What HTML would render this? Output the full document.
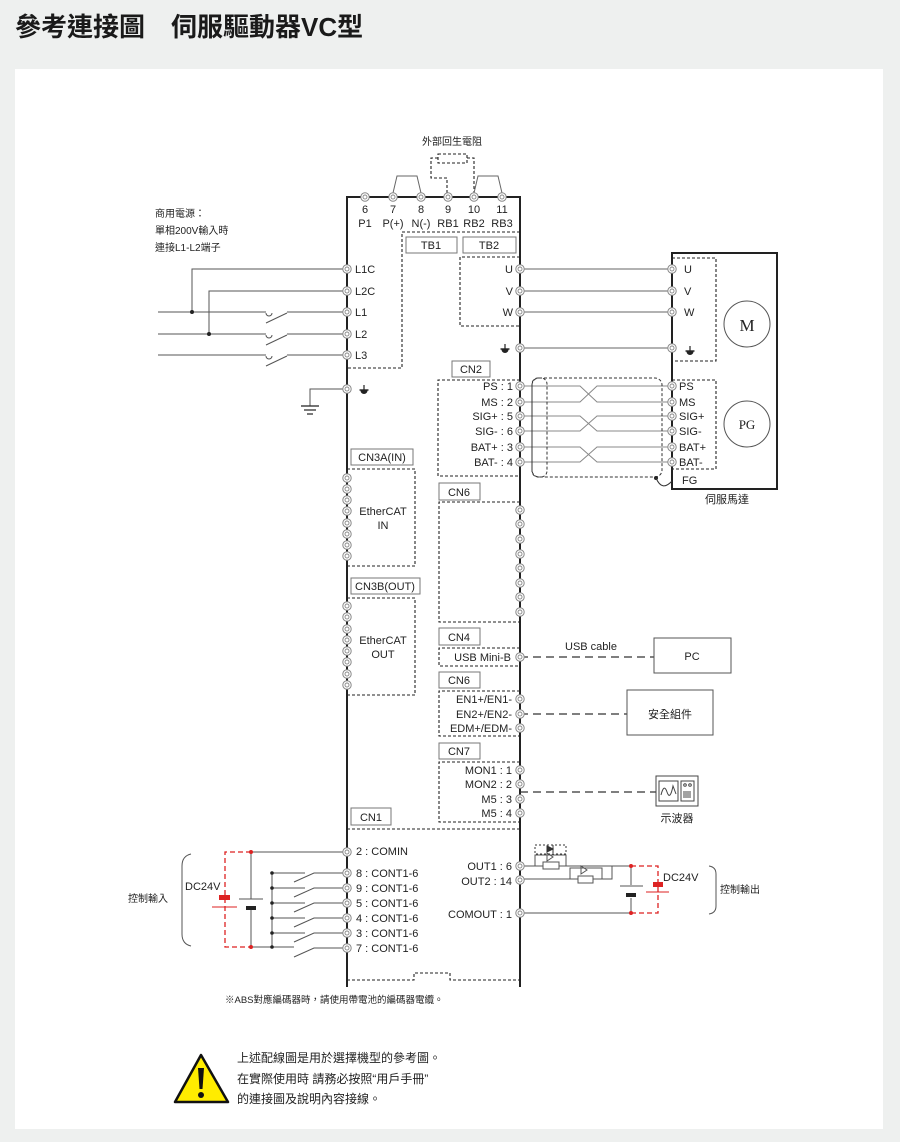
<!DOCTYPE html>
<html><head><meta charset="utf-8"><style>
html,body{margin:0;padding:0;background:#eef0ef;width:900px;height:1142px;overflow:hidden}
svg{display:block}
text{font-family:"Liberation Sans","Noto Sans CJK TC",sans-serif;fill:#222}
</style></head><body>
<svg width="900" height="1142" viewBox="0 0 900 1142" xmlns="http://www.w3.org/2000/svg">
<defs>
<g id="t"><circle r="4.2" fill="#fff" stroke="#888" stroke-width="1"/><circle r="2" fill="none" stroke="#888" stroke-width="0.9"/></g>
<g id="gnd"><line x1="0" y1="-5" x2="0" y2="0" stroke="#222" stroke-width="1.2"/><line x1="-4.5" y1="0" x2="4.5" y2="0" stroke="#222" stroke-width="1.4"/><path d="M-3.5,0.5 A3.5,3.5 0 0 0 3.5,0.5 Z" fill="#222"/></g>
</defs>
<text x="15" y="36" font-size="26" font-weight="bold" style="fill:#1a1a1a">參考連接圖　伺服驅動器VC型</text>
<rect x="15" y="69" width="868" height="1060" fill="#fff"/>

<g font-size="11">
<text x="452" y="145" text-anchor="middle" font-size="10">外部回生電阻</text>
<g fill="none" stroke="#222" stroke-width="1.1" stroke-dasharray="3,2">
<rect x="438" y="154" width="29" height="9"/>
<path d="M438,158 H431 V178 H447 V193"/><path d="M467,158 H474 V193"/>
</g>
<g fill="none" stroke="#666" stroke-width="1">
<path d="M393,193 L397,176 H417 L421,193"/><path d="M474,193 L478,176 H498 L502,193"/>
</g>
<path d="M347,987 V197 H520 V987" fill="none" stroke="#222" stroke-width="2"/>
<g text-anchor="middle">
<text x="365" y="213">6</text><text x="393" y="213">7</text><text x="421" y="213">8</text><text x="448" y="213">9</text><text x="474" y="213">10</text><text x="502" y="213">11</text>
<text x="365" y="227">P1</text><text x="393" y="227">P(+)</text><text x="421" y="227">N(-)</text><text x="448" y="227">RB1</text><text x="474" y="227">RB2</text><text x="502" y="227">RB3</text>
</g>
<use href="#t" x="365" y="197"/><use href="#t" x="393" y="197"/><use href="#t" x="421" y="197"/><use href="#t" x="448" y="197"/><use href="#t" x="474" y="197"/><use href="#t" x="502" y="197"/>

<text x="155" y="217" font-size="10">商用電源：</text>
<text x="155" y="234" font-size="10">單相200V輸入時</text>
<text x="155" y="251" font-size="10">連接L1-L2端子</text>

<g fill="none" stroke="#222" stroke-width="1.1" stroke-dasharray="3,2">
<path d="M520,232 H402 V368 H347"/><path d="M520,257 H460 V326 H520"/>
</g>
<rect x="406" y="237" width="51" height="16" fill="#fff" stroke="#777"/><text x="431" y="249" text-anchor="middle">TB1</text>
<rect x="463" y="237" width="53" height="16" fill="#fff" stroke="#777"/><text x="489" y="249" text-anchor="middle">TB2</text>

<g fill="none" stroke="#555" stroke-width="1">
<path d="M347,269 H192 V312"/><path d="M347,291 H209 V334"/>
<path d="M158,312 H266 M266,323 L287,313 M287,312 H347"/>
<path d="M158,334 H266 M266,345 L287,335 M287,334 H347"/>
<path d="M158,355 H266 M266,366 L287,356 M287,355 H347"/>
<path d="M266,313 a3,3 0 0 0 6,0 M266,335 a3,3 0 0 0 6,0 M266,356 a3,3 0 0 0 6,0"/>
<path d="M347,389 H310 V406"/>
</g>
<g stroke="#222" stroke-width="1.2"><line x1="301" y1="406" x2="319" y2="406"/><line x1="304" y1="410" x2="316" y2="410"/><line x1="307" y1="414" x2="313" y2="414"/></g>
<circle cx="192" cy="312" r="2" fill="#222"/><circle cx="209" cy="334" r="2" fill="#222"/>
<g><use href="#t" x="347" y="269"/><use href="#t" x="347" y="291"/><use href="#t" x="347" y="312"/><use href="#t" x="347" y="334"/><use href="#t" x="347" y="355"/><use href="#t" x="347" y="389"/></g>
<text x="355" y="273">L1C</text><text x="355" y="295">L2C</text><text x="355" y="316">L1</text><text x="355" y="338">L2</text><text x="355" y="359">L3</text>
<use href="#gnd" x="364" y="390"/>

<g stroke="#666" stroke-width="1">
<line x1="520" y1="269" x2="672" y2="269"/><line x1="520" y1="291" x2="672" y2="291"/><line x1="520" y1="312" x2="672" y2="312"/><line x1="520" y1="348" x2="672" y2="348"/>
</g>
<rect x="672" y="253" width="105" height="236" fill="none" stroke="#222" stroke-width="2"/>
<g fill="none" stroke="#222" stroke-width="1.1" stroke-dasharray="3,2"><path d="M672,258 H716 V361 H672"/><path d="M672,380 H716 V469 H672"/></g>
<circle cx="747" cy="324" r="23" fill="#fff" stroke="#555"/><text x="747" y="331" text-anchor="middle" font-size="17" style="font-family:'Liberation Serif',serif">M</text>
<circle cx="747" cy="424" r="23" fill="#fff" stroke="#555"/><text x="747" y="429" text-anchor="middle" font-size="13" style="font-family:'Liberation Serif',serif">PG</text>
<g text-anchor="end"><text x="513" y="273">U</text><text x="513" y="295">V</text><text x="513" y="316">W</text></g>
<use href="#gnd" x="505" y="349"/>
<text x="684" y="273">U</text><text x="684" y="295">V</text><text x="684" y="316">W</text>
<use href="#gnd" x="690" y="351"/>
<use href="#t" x="520" y="269"/><use href="#t" x="520" y="291"/><use href="#t" x="520" y="312"/><use href="#t" x="520" y="348"/>
<use href="#t" x="672" y="269"/><use href="#t" x="672" y="291"/><use href="#t" x="672" y="312"/><use href="#t" x="672" y="348"/>

<rect x="452" y="361" width="38" height="16" fill="#fff" stroke="#777"/><text x="471" y="373" text-anchor="middle">CN2</text>
<path d="M520,380 H438 V476 H520" fill="none" stroke="#222" stroke-width="1.1" stroke-dasharray="3,2"/>
<g fill="none" stroke="#888" stroke-width="1">
<path d="M520,386 H580 L597,402 H672 M520,402 H580 L597,386 H672"/>
<path d="M520,416 H580 L597,431 H672 M520,431 H580 L597,416 H672"/>
<path d="M520,447 H580 L597,462 H672 M520,462 H580 L597,447 H672"/>
</g>
<g fill="none" stroke="#333" stroke-width="1" stroke-dasharray="3,2">
<rect x="532" y="378" width="130" height="99" rx="7"/><rect x="532" y="378" width="15" height="99" rx="6"/>
</g>
<circle cx="656" cy="478" r="2" fill="#222"/><path d="M656,478 Q662,492 672,481" fill="none" stroke="#333"/>
<g text-anchor="end"><text x="513" y="390">PS : 1</text><text x="513" y="406">MS : 2</text><text x="513" y="420">SIG+ : 5</text><text x="513" y="435">SIG- : 6</text><text x="513" y="451">BAT+ : 3</text><text x="513" y="466">BAT- : 4</text></g>
<text x="679" y="390">PS</text><text x="679" y="406">MS</text><text x="679" y="420">SIG+</text><text x="679" y="435">SIG-</text><text x="679" y="451">BAT+</text><text x="679" y="466">BAT-</text>
<text x="682" y="484">FG</text>
<text x="727" y="503" text-anchor="middle">伺服馬達</text>
<g><use href="#t" x="520" y="386"/><use href="#t" x="520" y="402"/><use href="#t" x="520" y="416"/><use href="#t" x="520" y="431"/><use href="#t" x="520" y="447"/><use href="#t" x="520" y="462"/>
<use href="#t" x="672" y="386"/><use href="#t" x="672" y="402"/><use href="#t" x="672" y="416"/><use href="#t" x="672" y="431"/><use href="#t" x="672" y="447"/><use href="#t" x="672" y="462"/></g>

<rect x="351" y="449" width="62" height="16" fill="#fff" stroke="#777"/><text x="382" y="461" text-anchor="middle">CN3A(IN)</text>
<path d="M347,469 H415 V566 H347" fill="none" stroke="#222" stroke-width="1.1" stroke-dasharray="3,2"/>
<text x="383" y="515" text-anchor="middle">EtherCAT</text><text x="383" y="529" text-anchor="middle">IN</text>
<g><use href="#t" x="347" y="478"/><use href="#t" x="347" y="489"/><use href="#t" x="347" y="500"/><use href="#t" x="347" y="511"/><use href="#t" x="347" y="523"/><use href="#t" x="347" y="534"/><use href="#t" x="347" y="545"/><use href="#t" x="347" y="556"/></g>
<rect x="351" y="578" width="69" height="16" fill="#fff" stroke="#777"/><text x="385" y="590" text-anchor="middle">CN3B(OUT)</text>
<path d="M347,598 H415 V695 H347" fill="none" stroke="#222" stroke-width="1.1" stroke-dasharray="3,2"/>
<text x="383" y="644" text-anchor="middle">EtherCAT</text><text x="383" y="658" text-anchor="middle">OUT</text>
<g><use href="#t" x="347" y="606"/><use href="#t" x="347" y="617"/><use href="#t" x="347" y="629"/><use href="#t" x="347" y="640"/><use href="#t" x="347" y="651"/><use href="#t" x="347" y="662"/><use href="#t" x="347" y="674"/><use href="#t" x="347" y="685"/></g>

<rect x="439" y="483" width="41" height="17" fill="#fff" stroke="#777"/><text x="459" y="496" text-anchor="middle">CN6</text>
<path d="M520,502 H439 V622 H520" fill="none" stroke="#222" stroke-width="1.1" stroke-dasharray="3,2"/>
<g><use href="#t" x="520" y="510"/><use href="#t" x="520" y="524"/><use href="#t" x="520" y="539"/><use href="#t" x="520" y="554"/><use href="#t" x="520" y="568"/><use href="#t" x="520" y="583"/><use href="#t" x="520" y="597"/><use href="#t" x="520" y="612"/></g>

<rect x="439" y="628" width="41" height="17" fill="#fff" stroke="#777"/><text x="459" y="641" text-anchor="middle">CN4</text>
<path d="M520,648 H439 V666 H520" fill="none" stroke="#222" stroke-width="1.1" stroke-dasharray="3,2"/>
<text x="511" y="661" text-anchor="end">USB Mini-B</text>
<line x1="520" y1="657" x2="654" y2="657" stroke="#333" stroke-width="1.3" stroke-dasharray="8,5"/>
<text x="591" y="650" text-anchor="middle">USB cable</text>
<rect x="654" y="638" width="77" height="35" fill="#fff" stroke="#555"/><text x="692" y="660" text-anchor="middle">PC</text>
<use href="#t" x="520" y="657"/>

<rect x="439" y="672" width="41" height="16" fill="#fff" stroke="#777"/><text x="459" y="684" text-anchor="middle">CN6</text>
<path d="M520,691 H439 V736 H520" fill="none" stroke="#222" stroke-width="1.1" stroke-dasharray="3,2"/>
<g text-anchor="end"><text x="512" y="703">EN1+/EN1-</text><text x="512" y="718">EN2+/EN2-</text><text x="512" y="732">EDM+/EDM-</text></g>
<line x1="520" y1="714" x2="627" y2="714" stroke="#333" stroke-width="1.3" stroke-dasharray="8,5"/>
<rect x="627" y="690" width="86" height="45" fill="#fff" stroke="#555"/><text x="670" y="718" text-anchor="middle">安全組件</text>
<use href="#t" x="520" y="699"/><use href="#t" x="520" y="714"/><use href="#t" x="520" y="728"/>

<rect x="439" y="743" width="41" height="16" fill="#fff" stroke="#777"/><text x="459" y="755" text-anchor="middle">CN7</text>
<path d="M520,762 H439 V822 H520" fill="none" stroke="#222" stroke-width="1.1" stroke-dasharray="3,2"/>
<g text-anchor="end"><text x="512" y="774">MON1 : 1</text><text x="512" y="788">MON2 : 2</text><text x="512" y="803">M5 : 3</text><text x="512" y="817">M5 : 4</text></g>
<line x1="520" y1="792" x2="656" y2="792" stroke="#333" stroke-width="1.3" stroke-dasharray="8,5"/>
<rect x="656" y="776" width="42" height="30" fill="#fff" stroke="#444"/>
<rect x="659" y="781" width="19" height="20" fill="none" stroke="#444"/>
<path d="M661,795 Q664,783 667,792 T673,786 L676,794" fill="none" stroke="#444"/>
<rect x="681" y="781" width="13" height="20" fill="none" stroke="#444"/>
<circle cx="685" cy="785" r="1.3" fill="none" stroke="#444"/><circle cx="690" cy="785" r="1.3" fill="none" stroke="#444"/>
<path d="M684,791 v7 M686,791 v7 M688,791 v7 M690,791 v7" stroke="#444"/>
<text x="677" y="822" text-anchor="middle">示波器</text>
<use href="#t" x="520" y="770"/><use href="#t" x="520" y="784"/><use href="#t" x="520" y="799"/><use href="#t" x="520" y="813"/>

<rect x="351" y="808" width="40" height="17" fill="#fff" stroke="#777"/><text x="371" y="821" text-anchor="middle">CN1</text>
<line x1="347" y1="829" x2="520" y2="829" stroke="#222" stroke-width="1.1" stroke-dasharray="3,2"/>
<path d="M347,980 H414 V973 H450 V980 H520" fill="none" stroke="#222" stroke-width="1.1" stroke-dasharray="3,2"/>

<g fill="none" stroke="#555" stroke-width="1">
<path d="M191,854 Q182,856 182,866 V934 Q182,944 191,946"/>
<path d="M251,852 H347 M251,852 V899 M251,908 V947 H294"/>
<path d="M272,873 V947"/>
<path d="M272,873 H305 M294,882 L314,873 H347"/>
<path d="M272,888 H305 M294,897 L314,888 H347"/>
<path d="M272,903 H305 M294,912 L314,903 H347"/>
<path d="M272,918 H305 M294,927 L314,918 H347"/>
<path d="M272,933 H305 M294,942 L314,933 H347"/>
<path d="M294,957 L314,948 H347"/>
<line x1="239" y1="899" x2="263" y2="899"/>
</g>
<rect x="246" y="906" width="10" height="4" fill="#222"/>
<g fill="#222"><circle cx="272" cy="873" r="1.8"/><circle cx="272" cy="888" r="1.8"/><circle cx="272" cy="903" r="1.8"/><circle cx="272" cy="918" r="1.8"/><circle cx="272" cy="933" r="1.8"/><circle cx="272" cy="947" r="1.8"/></g>
<g fill="none" stroke="#d22" stroke-width="1.3" stroke-dasharray="5,3"><path d="M251,852 H225 V947 H251"/></g>
<rect x="219" y="895" width="11" height="5" fill="#d22"/><line x1="212" y1="907" x2="237" y2="907" stroke="#d22" stroke-width="1"/>
<circle cx="251" cy="852" r="2" fill="#d22"/><circle cx="251" cy="947" r="2" fill="#d22"/>
<text x="185" y="890">DC24V</text>
<text x="128" y="902" font-size="10">控制輸入</text>
<g><text x="356" y="855">2 : COMIN</text><text x="356" y="877">8 : CONT1-6</text><text x="356" y="892">9 : CONT1-6</text><text x="356" y="907">5 : CONT1-6</text><text x="356" y="922">4 : CONT1-6</text><text x="356" y="937">3 : CONT1-6</text><text x="356" y="952">7 : CONT1-6</text></g>
<g><use href="#t" x="347" y="852"/><use href="#t" x="347" y="873"/><use href="#t" x="347" y="888"/><use href="#t" x="347" y="903"/><use href="#t" x="347" y="918"/><use href="#t" x="347" y="933"/><use href="#t" x="347" y="948"/></g>

<g fill="none" stroke="#555" stroke-width="1">
<path d="M520,866 H631 V885 M631,898 V913 H520"/>
<path d="M535,866 V855 H566 V866"/>
<path d="M520,879 H612 V866 M570,879 V868 H602 V879"/>
<line x1="620" y1="886" x2="643" y2="886"/>
<path d="M547,853 L553,857 L547,861 Z M581,866 L587,870 L581,874 Z"/>
<path d="M709,866 Q716,867 716,874 V906 Q716,913 709,914"/>
</g>
<rect x="543" y="862" width="16" height="7" fill="#fff" stroke="#555"/>
<rect x="578" y="876" width="15" height="7" fill="#fff" stroke="#555"/>
<rect x="535" y="845" width="31" height="9" fill="none" stroke="#333" stroke-dasharray="2,2"/>
<path d="M547,846 L553,849 L547,852 Z M553,845 V853" fill="#333" stroke="#333"/>
<rect x="626" y="893" width="10" height="4" fill="#222"/>
<g fill="none" stroke="#d22" stroke-width="1.3" stroke-dasharray="5,3"><path d="M631,866 H658 V913 H631"/></g>
<rect x="653" y="882" width="10" height="5" fill="#d22"/><line x1="646" y1="892" x2="669" y2="892" stroke="#d22"/>
<circle cx="631" cy="866" r="2" fill="#d22"/><circle cx="631" cy="913" r="2" fill="#d22"/>
<text x="663" y="881">DC24V</text>
<text x="720" y="893" font-size="10">控制輸出</text>
<g text-anchor="end"><text x="512" y="870">OUT1 : 6</text><text x="512" y="885">OUT2 : 14</text><text x="512" y="918">COMOUT : 1</text></g>
<use href="#t" x="520" y="866"/><use href="#t" x="520" y="880"/><use href="#t" x="520" y="913"/>

<text x="225" y="1003" font-size="9.5">※ABS對應編碼器時，請使用帶電池的編碼器電纜。</text>

<path d="M201,1055 L228,1102 H175 Z" fill="#ffec00" stroke="#111" stroke-width="2.5" stroke-linejoin="round"/>
<path d="M198,1068 H204 L202.5,1089 H199.5 Z" fill="#111"/><circle cx="201" cy="1095" r="3" fill="#111"/>
<g font-size="12"><text x="237" y="1062">上述配線圖是用於選擇機型的參考圖。</text><text x="237" y="1083">在實際使用時 請務必按照“用戶手冊”</text><text x="237" y="1103">的連接圖及說明內容接線。</text></g>
</g>
</svg>
</body></html>
